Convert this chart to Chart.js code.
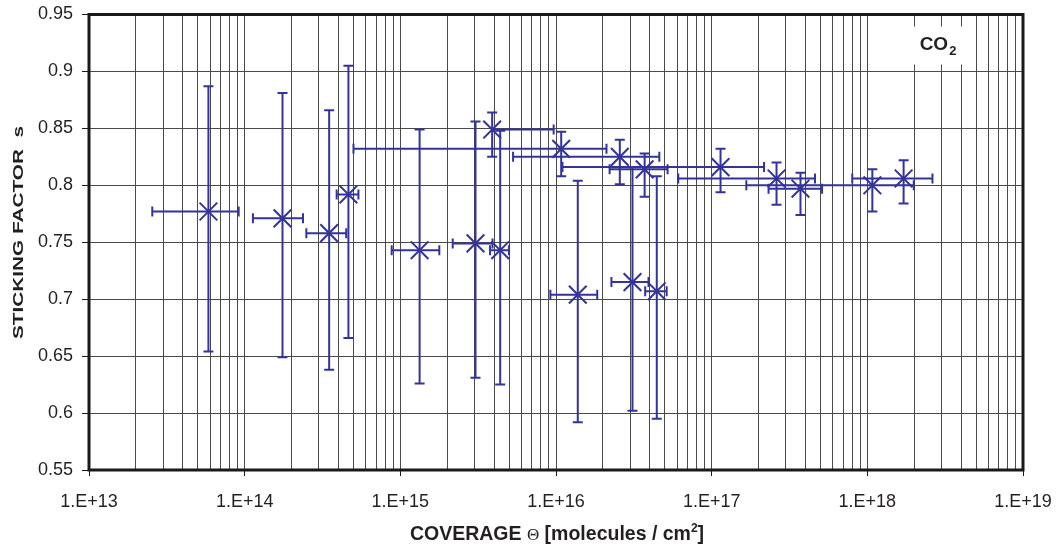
<!DOCTYPE html>
<html>
<head>
<meta charset="utf-8">
<script src="https://cdn.jsdelivr.net/npm/chart.js@4.4.1/dist/chart.umd.min.js"></script>
<style>
  html, body { margin: 0; padding: 0; background: #ffffff; }
  canvas { display: block; }
</style>
</head>
<body>
<canvas id="chart" width="1058" height="552"></canvas>
<script>
// CO2 sticking factor versus surface coverage, with error bars in both directions.
const coverage   = [5.85e13, 1.75e14, 3.49e14, 4.64e14, 1.33e15, 3.04e15, 4.38e15, 3.89e15, 1.08e16, 2.57e16,
                    3.71e16, 1.14e17, 2.61e17, 3.72e17, 1.077e18, 1.71e18, 1.38e16, 3.10e16, 4.44e16];
const sticking   = [0.777, 0.771, 0.758, 0.792, 0.743, 0.749, 0.743, 0.849, 0.832, 0.825,
                    0.814, 0.816, 0.806, 0.797, 0.800, 0.806, 0.704, 0.715, 0.707];
const coverageErr = [3.3e13, 6.2e13, 1.0e14, 7.4e13, 4.5e14, 8.7e14, 6.1e14, 5.77e15, 1.03e16, 2.04e16,
                    1.5e16, 1.03e17, 2.0e17, 1.4e17, 9.1e17, 9.1e17, 4.6e15, 8.3e15, 7.0e15];
const stickingLow  = [0.654, 0.649, 0.638, 0.666, 0.626, 0.631, 0.625, 0.825, 0.808, 0.801,
                      0.790, 0.794, 0.783, 0.774, 0.777, 0.784, 0.592, 0.602, 0.595];
const stickingHigh = [0.887, 0.881, 0.866, 0.905, 0.849, 0.856, 0.848, 0.864, 0.847, 0.840,
                      0.828, 0.832, 0.820, 0.811, 0.814, 0.822, 0.804, 0.816, 0.808];

const decadeExponents = [13, 14, 15, 16, 17, 18, 19];
const xTickLabels = ['1.E+13', '1.E+14', '1.E+15', '1.E+16', '1.E+17', '1.E+18', '1.E+19'];
const yTickValues = [0.55, 0.6, 0.65, 0.7, 0.75, 0.8, 0.85, 0.9, 0.95];
const yTickLabels = ['0.55', '0.6', '0.65', '0.7', '0.75', '0.8', '0.85', '0.9', '0.95'];

const SERIES_COLOR = '#33339a';
const TEXT_COLOR = '#231f20';
const FONT = '"Liberation Sans", Arial, sans-serif';

// Grid positions on the log axis: 1..9 in every decade, plus the closing decade.
const xGridValues = [];
for (let i = 0; i < decadeExponents.length - 1; i++) {
  for (let k = 1; k <= 9; k++) xGridValues.push(Number(k + 'e' + decadeExponents[i]));
}
xGridValues.push(Number('1e' + decadeExponents[decadeExponents.length - 1]));

function decadeIndex(v) {
  const e = Math.log10(v);
  const r = Math.round(e);
  return Math.abs(e - r) < 1e-9 ? decadeExponents.indexOf(r) : -1;
}

const points = coverage.map((x, i) => ({ x, y: sticking[i] }));

// Horizontal and vertical error bars with end caps.
const errorBars = {
  id: 'errorBars',
  beforeDatasetsDraw(chart) {
    const { ctx, scales: { x: xs, y: ys } } = chart;
    const cap = 5;
    ctx.save();
    ctx.strokeStyle = SERIES_COLOR;
    ctx.lineWidth = 2;
    ctx.lineCap = 'butt';
    coverage.forEach((xv, i) => {
      const px = xs.getPixelForValue(xv);
      const py = ys.getPixelForValue(sticking[i]);
      // vertical
      const yTop = ys.getPixelForValue(stickingHigh[i]);
      const yBot = ys.getPixelForValue(stickingLow[i]);
      ctx.beginPath();
      ctx.moveTo(px, yTop); ctx.lineTo(px, yBot);
      ctx.moveTo(px - cap, yTop); ctx.lineTo(px + cap, yTop);
      ctx.moveTo(px - cap, yBot); ctx.lineTo(px + cap, yBot);
      ctx.stroke();
      // horizontal (a lower bound at or below zero cannot be shown on a log axis)
      const hi = xs.getPixelForValue(xv + coverageErr[i]);
      ctx.beginPath();
      ctx.moveTo(px, py); ctx.lineTo(hi, py);
      ctx.moveTo(hi, py - cap); ctx.lineTo(hi, py + cap);
      const loVal = xv - coverageErr[i];
      if (loVal > 0) {
        const lo = xs.getPixelForValue(loVal);
        ctx.moveTo(lo, py); ctx.lineTo(px, py);
        ctx.moveTo(lo, py - cap); ctx.lineTo(lo, py + cap);
      }
      ctx.stroke();
    });
    ctx.restore();
  }
};

// Plot frame, species label and axis captions.
const decorations = {
  id: 'decorations',
  beforeDatasetsDraw(chart) {
    const { ctx, chartArea: a } = chart;
    ctx.save();
    // species label box
    const bx = a.right - 122, by = a.top + 12, bw = 74, bh = 38;
    ctx.fillStyle = '#ffffff';
    ctx.fillRect(bx, by, bw, bh);
    ctx.fillStyle = TEXT_COLOR;
    ctx.textBaseline = 'alphabetic';
    ctx.textAlign = 'left';
    ctx.font = 'bold 19px ' + FONT;
    const coW = ctx.measureText('CO').width;
    ctx.font = 'bold 13px ' + FONT;
    const twoW = ctx.measureText('2').width;
    const startX = bx + bw / 2 - (coW + 1 + twoW) / 2;
    ctx.font = 'bold 19px ' + FONT;
    ctx.fillText('CO', startX, a.top + 35);
    ctx.font = 'bold 13px ' + FONT;
    ctx.fillText('2', startX + coW + 1, a.top + 40);
    ctx.restore();
  },
  afterDraw(chart) {
    const { ctx, chartArea: a } = chart;
    ctx.save();
    // frame
    ctx.strokeStyle = '#1a1a1a';
    ctx.lineWidth = 3;
    ctx.strokeRect(a.left, a.top, a.right - a.left, a.bottom - a.top);

    ctx.fillStyle = TEXT_COLOR;
    ctx.textBaseline = 'alphabetic';

    // x caption with symbol and superscript
    const runs = [
      { text: 'COVERAGE ', font: 'bold 19.5px ' + FONT, dy: 0 },
      { text: 'Θ', font: '17px "Liberation Serif", serif', dy: 0 },
      { text: ' [molecules / cm', font: 'bold 19.5px ' + FONT, dy: 0 },
      { text: '2', font: 'bold 12px ' + FONT, dy: -8 },
      { text: ']', font: 'bold 19.5px ' + FONT, dy: 0 }
    ];
    let total = 0;
    runs.forEach(r => { ctx.font = r.font; r.w = ctx.measureText(r.text).width; total += r.w; });
    let cx = 557 - total / 2;
    ctx.textAlign = 'left';
    runs.forEach(r => { ctx.font = r.font; ctx.fillText(r.text, cx, 540 + r.dy); cx += r.w; });

    // y caption, rotated
    const yTitle = 'STICKING FACTOR  s';
    ctx.font = 'bold 15px ' + FONT;
    const tw = ctx.measureText(yTitle).width;
    ctx.translate(22.5, 232.5);
    ctx.rotate(-Math.PI / 2);
    ctx.scale(213 / tw, 1);
    ctx.textAlign = 'center';
    ctx.fillText(yTitle, 0, 0);
    ctx.restore();
  }
};

new Chart(document.getElementById('chart'), {
  type: 'scatter',
  data: {
    datasets: [{
      label: 'CO2',
      data: points,
      pointStyle: 'crossRot',
      pointRadius: 12.5,
      pointHoverRadius: 12.5,
      pointBorderWidth: 2,
      pointBorderColor: SERIES_COLOR,
      pointBackgroundColor: SERIES_COLOR,
      showLine: false
    }]
  },
  options: {
    responsive: false,
    animation: false,
    devicePixelRatio: 1,
    layout: { padding: { left: 0, top: 13, right: 35, bottom: 0 } },
    plugins: { legend: { display: false }, tooltip: { enabled: false }, title: { display: false } },
    scales: {
      x: {
        type: 'logarithmic',
        min: 1e13,
        max: 1e19,
        afterBuildTicks(scale) { scale.ticks = xGridValues.map(v => ({ value: v })); },
        afterFit(scale) {
          scale.height = 82;
          scale.paddingLeft = 0;
          scale.paddingRight = 0;
        },
        border: { display: false },
        grid: {
          color: '#4a4a4a',
          lineWidth: 1,
          tickLength: 6,
          tickWidth: 1,
          tickColor: (c) => (c.tick && decadeIndex(c.tick.value) >= 0) ? '#1a1a1a' : 'rgba(0,0,0,0)'
        },
        ticks: {
          autoSkip: false,
          maxRotation: 0,
          minRotation: 0,
          padding: 15,
          color: TEXT_COLOR,
          font: { family: FONT, size: 18 },
          callback: (v) => { const d = decadeIndex(v); return d >= 0 ? xTickLabels[d] : ''; }
        },
        title: { display: false }
      },
      y: {
        type: 'linear',
        min: 0.55,
        max: 0.95,
        afterBuildTicks(scale) { scale.ticks = yTickValues.map(v => ({ value: v })); },
        afterFit(scale) {
          scale.width = 89;
          scale.paddingTop = 0;
          scale.paddingBottom = 0;
        },
        border: { display: false },
        grid: {
          color: '#4a4a4a',
          lineWidth: 1,
          tickLength: 7,
          tickWidth: 1,
          tickColor: '#1a1a1a'
        },
        ticks: {
          autoSkip: false,
          padding: 9,
          color: TEXT_COLOR,
          font: { family: FONT, size: 18 },
          callback: (v, i) => yTickLabels[i]
        },
        title: { display: false }
      }
    }
  },
  plugins: [errorBars, decorations]
});
</script>
</body>
</html>
